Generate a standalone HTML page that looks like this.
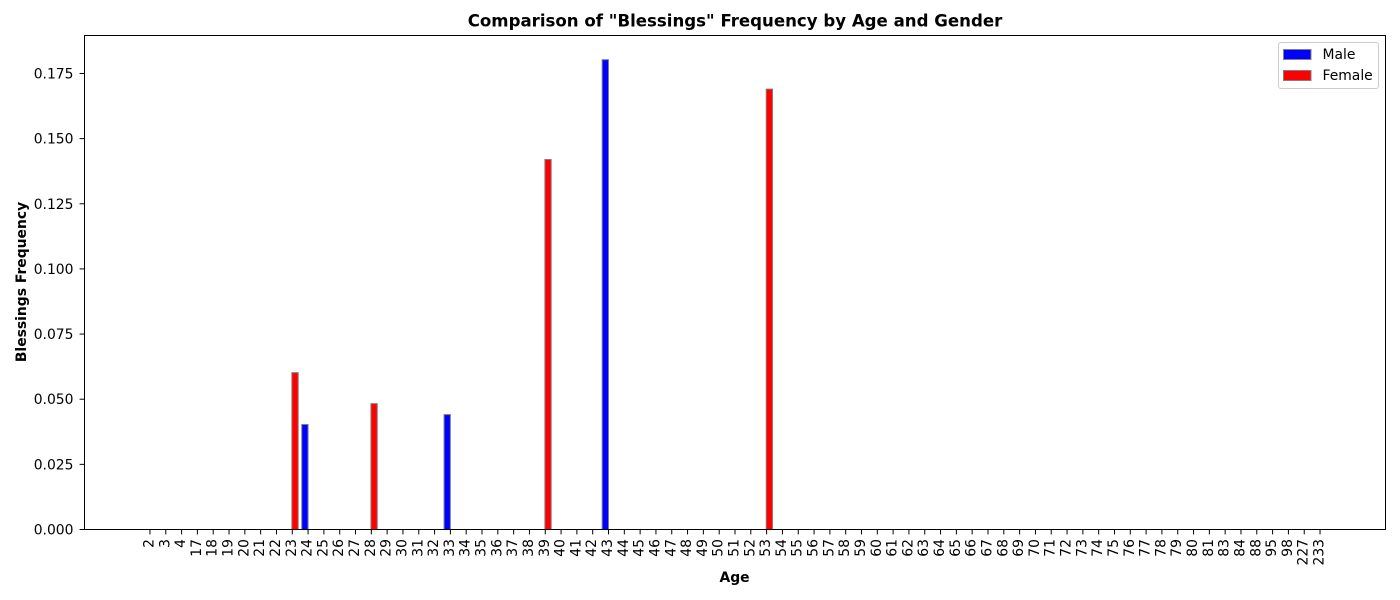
<!DOCTYPE html>
<html lang="en">
<head>
<meta charset="utf-8">
<title>Comparison of "Blessings" Frequency by Age and Gender</title>
<style>
html,body{margin:0;padding:0;background:#fff;width:1400px;height:600px;overflow:hidden}
svg{display:block}
text{font-family:"DejaVu Sans","Liberation Sans",sans-serif;fill:#000}
</style>
</head>
<body>
<svg id="chart" width="1400" height="600" viewBox="0 0 1400 600" xmlns="http://www.w3.org/2000/svg">
<rect x="0" y="0" width="1400" height="600" fill="#fff"/>
<g id="bars"></g>
<g id="x-axis"></g>
<g id="y-axis"></g>
<rect x="84.5" y="35.5" width="1301" height="494" fill="none" stroke="#000" stroke-width="1"/>
<text x="735" y="26.5" text-anchor="middle" font-size="16.6" font-weight="700">Comparison of "Blessings" Frequency by Age and Gender</text>
<text x="734.5" y="582" text-anchor="middle" font-size="13.9" font-weight="700">Age</text>
<text transform="translate(26,282) rotate(-90)" text-anchor="middle" font-size="13.9" font-weight="700">Blessings Frequency</text>
<g>
<rect x="1278.5" y="42.5" width="100" height="46" rx="2.5" fill="#fff" fill-opacity="0.8" stroke="#ccc" stroke-width="1"/>
<rect x="1283.5" y="49.5" width="27.5" height="10" fill="#0000ff" stroke="#808080" stroke-width="1"/>
<text x="1322.5" y="59" font-size="13.9">Male</text>
<rect x="1283.5" y="70.5" width="27.5" height="10" fill="#ff0000" stroke="#808080" stroke-width="1"/>
<text x="1322.5" y="80" font-size="13.9">Female</text>
</g>
</svg>
<script>
const ages = ["2","3","4","17","18","19","20","21","22","23","24","25","26","27","28","29","30","31","32","33","34","35","36","37","38","39","40","41","42","43","44","45","46","47","48","49","50","51","52","53","54","55","56","57","58","59","60","61","62","63","64","65","66","67","68","69","70","71","72","73","74","75","76","77","78","79","80","81","83","84","88","95","98","227","233"];
const maleValues = [0,0,0,0,0,0,0,0,0,0,0.0403,0,0,0,0,0,0,0,0,0.0441,0,0,0,0,0,0,0,0,0,0.1803,0,0,0,0,0,0,0,0,0,0,0,0,0,0,0,0,0,0,0,0,0,0,0,0,0,0,0,0,0,0,0,0,0,0,0,0,0,0,0,0,0,0,0,0,0];
const femaleValues = [0,0,0,0,0,0,0,0,0,0.0602,0,0,0,0,0.0483,0,0,0,0,0,0,0,0,0,0,0.142,0,0,0,0,0,0,0,0,0,0,0,0,0,0.169,0,0,0,0,0,0,0,0,0,0,0,0,0,0,0,0,0,0,0,0,0,0,0,0,0,0,0,0,0,0,0,0,0,0,0];
const yTicks = [0,0.025,0.05,0.075,0.1,0.125,0.15,0.175];

const NS = 'http://www.w3.org/2000/svg';
const plotLeft = 84.5, plotRight = 1385.5, plotTop = 35.5, plotBottom = 529.5;
const barWidthUnits = 0.4;
const barNudge = -0.4;
const domainMin = -0.4 - 0.05 * (ages.length - 1 + 0.8);
const domainMax = ages.length - 1 + 0.4 + 0.05 * (ages.length - 1 + 0.8);
const yMax = 0.18957;

function xScale(i) {
  return plotLeft + (i - domainMin) / (domainMax - domainMin) * (plotRight - plotLeft);
}
function yScale(v) {
  return plotBottom - v / yMax * (plotBottom - plotTop);
}
function make(tag, attrs, parent) {
  const el = document.createElementNS(NS, tag);
  for (const k in attrs) el.setAttribute(k, attrs[k]);
  parent.appendChild(el);
  return el;
}

const barsGroup = document.getElementById('bars');
const xAxisGroup = document.getElementById('x-axis');
const yAxisGroup = document.getElementById('y-axis');
const bandWidth = xScale(barWidthUnits) - xScale(0);

ages.forEach(function (age, i) {
  const maleTop = yScale(maleValues[i]);
  const male = make('rect', {x: xScale(i - barWidthUnits / 2) - bandWidth / 2 + barNudge + 0.4, y: maleTop, width: bandWidth, height: plotBottom - maleTop, fill: '#0000ff', stroke: '#808080', 'stroke-width': 1}, barsGroup);
  
  

  const femaleTop = yScale(femaleValues[i]);
  const female = make('rect', {x: xScale(i + barWidthUnits / 2) - bandWidth / 2 + barNudge, y: femaleTop, width: bandWidth, height: plotBottom - femaleTop, fill: '#ff0000', stroke: '#808080', 'stroke-width': 1}, barsGroup);
  
  

  const x = xScale(i);
  const tick = make('line', {x1: x, x2: x, y1: plotBottom, y2: plotBottom + 4.9, stroke: '#000', 'stroke-width': 1}, xAxisGroup);
  
  

  const label = make('text', {transform: 'translate(' + (x + 3.5) + ',539) rotate(-90)', 'text-anchor': 'end', 'font-size': 13.9}, xAxisGroup);
  label.textContent = age;
  
  
});

yTicks.forEach(function (v) {
  const y = yScale(v);
  const tick = make('line', {x1: plotLeft - 4.9, x2: plotLeft, y1: y, y2: y, stroke: '#000', 'stroke-width': 1}, yAxisGroup);
  
  

  const label = make('text', {x: plotLeft - 11, y: y + 5, 'text-anchor': 'end', 'font-size': 13.9}, yAxisGroup);
  label.textContent = v.toFixed(3);
  
  
});
</script>
</body>
</html>
